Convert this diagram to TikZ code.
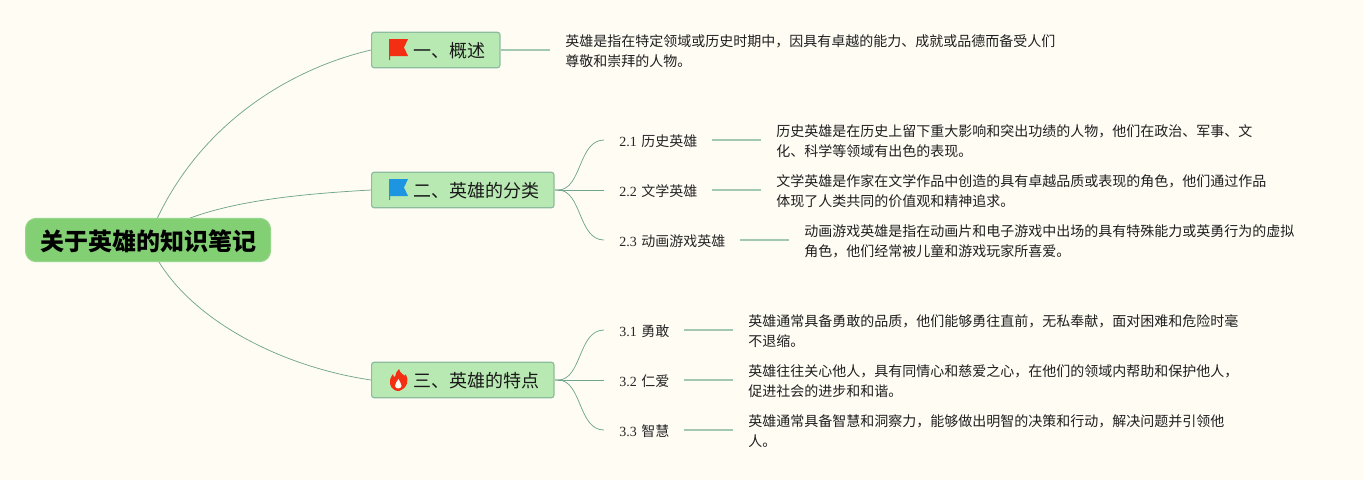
\documentclass[tikz,border=0pt]{standalone}
\usepackage{fontspec}
\setmainfont{Noto Sans CJK SC}
\newfontfamily\numfont{Liberation Serif}
\usetikzlibrary{backgrounds}
\definecolor{pagecol}{HTML}{FFFCF4}
\definecolor{rootcol}{HTML}{83CF74}
\definecolor{topiccol}{HTML}{B9E9B2}
\definecolor{edgecol}{HTML}{8DBBA0}
\definecolor{linecol}{HTML}{6FA58C}
\definecolor{stubcol}{HTML}{A3C8B0}
\definecolor{flagred}{HTML}{F42E12}
\definecolor{flagblue}{HTML}{1E95E0}
\newcommand{\subtext}[2]{\raisebox{-4.7pt}[0pt][0pt]{\mbox{{\numfont #1} #2}}}
\newcommand{\topictext}[1]{\raisebox{-5.8pt}[0pt][0pt]{#1}}
\tikzset{
  rootbox/.style={draw=rootcol!85!white, line width=0.75pt, fill=rootcol, rounded corners=8pt,
    minimum width=183.75pt, minimum height=32.5pt, inner sep=0pt, font=\fontsize{18}{22}\selectfont\bfseries, text=black},
  topicbox/.style={draw=edgecol, line width=0.9pt, fill=topiccol, rounded corners=1.8pt, anchor=west,
    minimum height=26.5pt, inner xsep=11pt, inner ysep=0pt, align=right, text width=#1*0.75pt,
    font=\fontsize{13.5}{16}\selectfont, text=black!90},
  subbox/.style={anchor=west, inner xsep=11.25pt, inner ysep=0pt, align=left, text width=#1*0.75pt,
    font=\fontsize{10.5}{15}\selectfont, text=black!85},
  descbox/.style={anchor=west, inner xsep=11.25pt, inner ysep=0pt, align=left,
    font=\fontsize{10.5}{15}\selectfont, text=black!88},
  branch/.style={draw=linecol, line width=0.55pt},
  stub/.style={draw=stubcol, line width=1.1pt},
  flagicon/.pic={
    \fill[#1] (0,0) -- (19,0) -- (15,8.5) -- (19,17) -- (1,17) -- (1,21) -- (0,21) -- cycle;
  },
  fireicon/.pic={
    \fill[flagred] (1,-11) .. controls (2,-6) and (7,-5) .. (7,-4)
      .. controls (7,-6) and (8,-6) .. (8,-5) .. controls (11,-1) and (10,8) .. (1,11)
      .. controls (-6,11) and (-9,5) .. (-8,0) .. controls (-7.5,-3) and (-6,-4) .. (-5,-6)
      .. controls (-5,-4) and (-4,-3) .. (-3,-3) .. controls (-3,-6) and (-1,-9) .. (1,-11) -- cycle;
    \fill[pagecol] (0.5,-1) .. controls (1,2) and (4,3) .. (3.5,6)
      .. controls (3,9) and (-2,9.5) .. (-3,6) .. controls (-3.5,3) and (-0.5,2) .. (0.5,-1) -- cycle;
  }
}
\begin{document}
\begin{tikzpicture}[x=0.75pt, y=-0.75pt]
        \useasboundingbox (0,0) rectangle (1364,480);
        % ==== ROOT AND TOPICS ====
        \node[rootbox] (root) at (148,240) {\hspace{1.5pt}\raisebox{-7.6pt}[0pt][0pt]{关于英雄的知识笔记}};
        \node[topicbox=99] (t1) at (371,50) {\topictext{一、概述}};
        \node[topicbox=153] (t2) at (371,190) {\topictext{二、英雄的分类}};
        \node[topicbox=153] (t3) at (371,380) {\topictext{三、英雄的特点}};
        \pic at (389,39) {flagicon=flagred};
        \pic at (389,179) {flagicon=flagblue};
        \pic at (398,380) {fireicon};
        % ==== SUB TOPICS ====
        \node[subbox=77] (s21) at (604,140) {\subtext{2.1}{历史英雄}};
        \node[subbox=77] (s22) at (604,190) {\subtext{2.2}{文学英雄}};
        \node[subbox=105] (s23) at (604,240) {\subtext{2.3}{动画游戏英雄}};
        \node[subbox=49] (s31) at (604,330) {\subtext{3.1}{勇敢}};
        \node[subbox=49] (s32) at (604,380) {\subtext{3.2}{仁爱}};
        \node[subbox=49] (s33) at (604,430) {\subtext{3.3}{智慧}};
        % ==== DESCRIPTIONS ====
        \node[descbox] (d1) at (550,51) {英雄是指在特定领域或历史时期中，因具有卓越的能力、成就或品德而备受人们\\尊敬和崇拜的人物。};
        \node[descbox] (d21) at (761,141) {历史英雄是在历史上留下重大影响和突出功绩的人物，他们在政治、军事、文\\化、科学等领域有出色的表现。};
        \node[descbox] (d22) at (761,191) {文学英雄是作家在文学作品中创造的具有卓越品质或表现的角色，他们通过作品\\体现了人类共同的价值观和精神追求。};
        \node[descbox] (d23) at (789,241) {动画游戏英雄是指在动画片和电子游戏中出场的具有特殊能力或英勇行为的虚拟\\角色，他们经常被儿童和游戏玩家所喜爱。};
        \node[descbox] (d31) at (733,331) {英雄通常具备勇敢的品质，他们能够勇往直前，无私奉献，面对困难和危险时毫\\不退缩。};
        \node[descbox] (d32) at (733,381) {英雄往往关心他人，具有同情心和慈爱之心，在他们的领域内帮助和保护他人，\\促进社会的进步和和谐。};
        \node[descbox] (d33) at (733,431) {英雄通常具备智慧和洞察力，能够做出明智的决策和行动，解决问题并引领他\\人。};
        \coordinate (hub2) at (558,190);
        \coordinate (hub3) at (558,380);
        % ==== CONNECTORS ====
        \begin{scope}[on background layer]
            \fill[pagecol] (0,0) rectangle (1364,480);
            \draw[branch] (root.center) .. controls (190,130) and (285,70) .. (t1.west);
            \draw[branch] (root.center) .. controls (195,205) and (280,195) .. (t2.west);
            \draw[branch] (root.center) .. controls (175,310) and (270,365) .. (t3.west);
        \end{scope}
        \draw[stub] (t2.east) -- (hub2);
        \draw[stub] (t3.east) -- (hub3);
        \draw[branch] (hub2) .. controls (582,190) and (578,140) .. (s21.west);
        \draw[branch] (hub2) -- (s22.west);
        \draw[branch] (hub2) .. controls (582,190) and (578,240) .. (s23.west);
        \draw[branch] (hub3) .. controls (582,380) and (578,330) .. (s31.west);
        \draw[branch] (hub3) -- (s32.west);
        \draw[branch] (hub3) .. controls (582,380) and (578,430) .. (s33.west);
        \draw[stub] (t1.east) -- (d1.west |- t1.east);
        \draw[stub] (s21.east) -- (d21.west |- s21.east);
        \draw[stub] (s22.east) -- (d22.west |- s22.east);
        \draw[stub] (s23.east) -- (d23.west |- s23.east);
        \draw[stub] (s31.east) -- (d31.west |- s31.east);
        \draw[stub] (s32.east) -- (d32.west |- s32.east);
        \draw[stub] (s33.east) -- (d33.west |- s33.east);
     \end{tikzpicture}
\end{document}
